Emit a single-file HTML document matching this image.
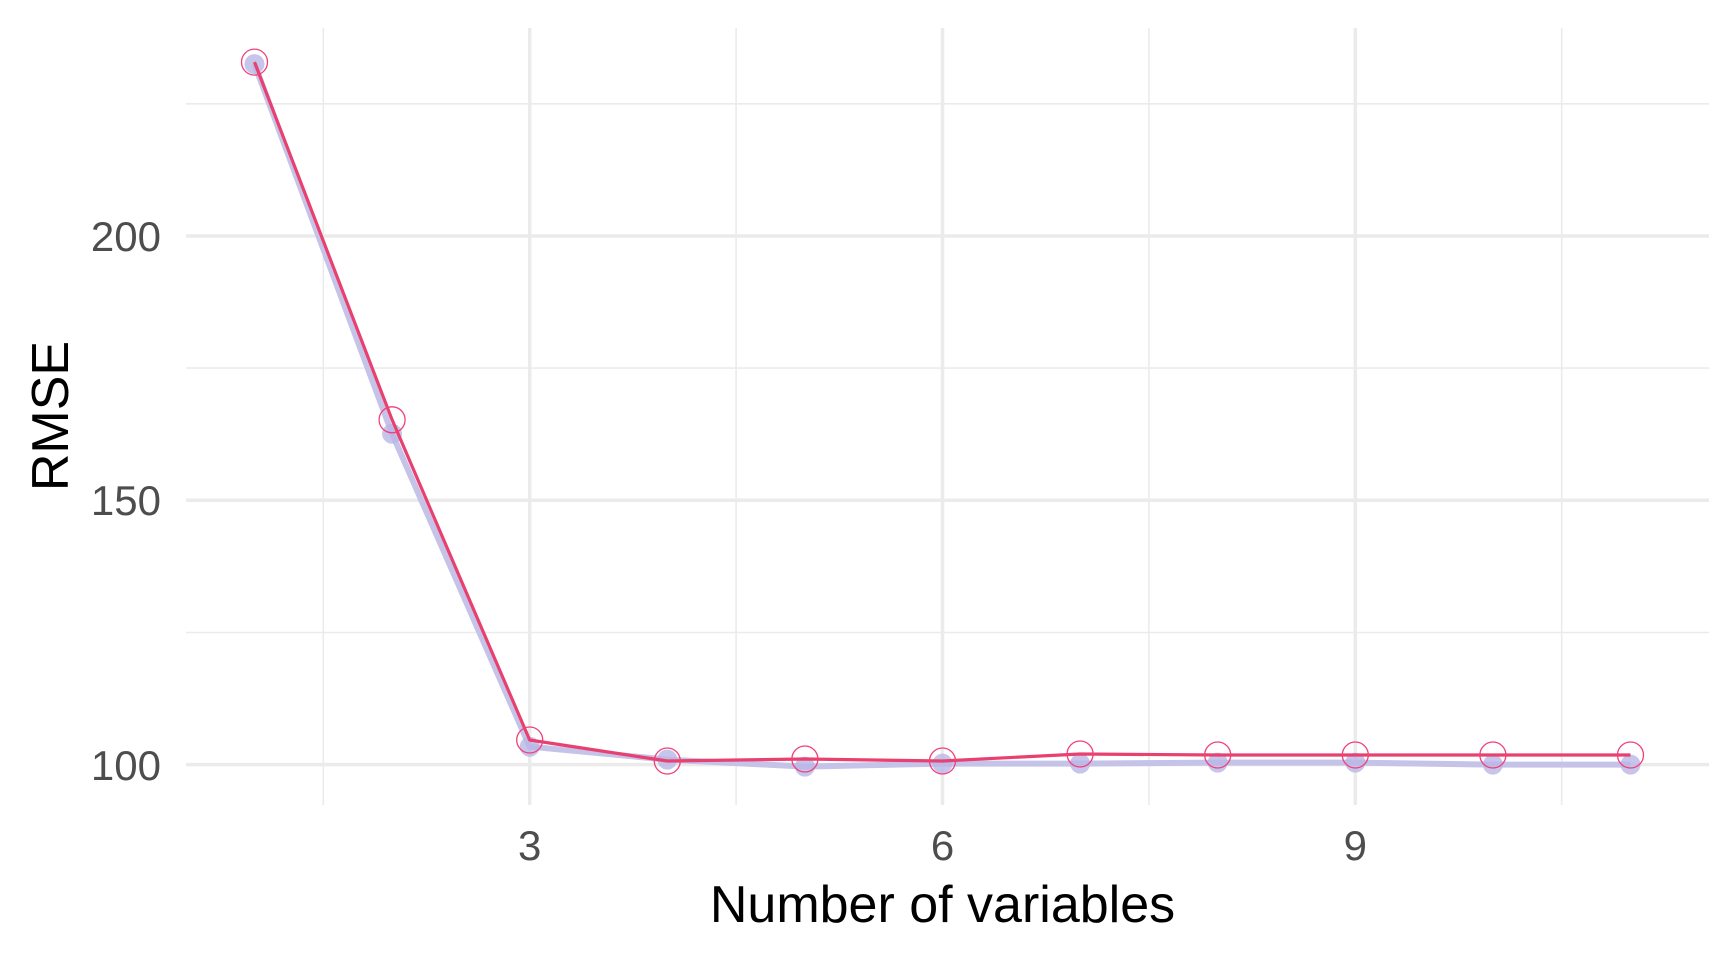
<!DOCTYPE html>
<html><head><style>html,body{margin:0;padding:0;background:#fff}</style></head><body>
<svg width="1728" height="960" xmlns="http://www.w3.org/2000/svg" font-family="Liberation Sans, Arial, sans-serif">
<rect width="1728" height="960" fill="#fff"/>
<g stroke="#ebebeb" stroke-width="1.6">
<line x1="186" x2="1709" y1="103.8" y2="103.8"/><line x1="186" x2="1709" y1="368.1" y2="368.1"/><line x1="186" x2="1709" y1="632.5" y2="632.5"/>
<line x1="323.3" x2="323.3" y1="28" y2="805"/><line x1="736.1" x2="736.1" y1="28" y2="805"/><line x1="1148.9" x2="1148.9" y1="28" y2="805"/><line x1="1561.7" x2="1561.7" y1="28" y2="805"/>
</g>
<g stroke="#ebebeb" stroke-width="3.5">
<line x1="186" x2="1709" y1="236" y2="236"/><line x1="186" x2="1709" y1="500.3" y2="500.3"/><line x1="186" x2="1709" y1="764.6" y2="764.6"/>
<line x1="529.7" x2="529.7" y1="28" y2="805"/><line x1="942.5" x2="942.5" y1="28" y2="805"/><line x1="1355.3" x2="1355.3" y1="28" y2="805"/>
</g>
<g fill="#4d4d4d" font-size="42" text-anchor="end">
<text x="161" y="251">200</text><text x="161" y="515">150</text><text x="161" y="780">100</text>
</g>
<g fill="#4d4d4d" font-size="42" text-anchor="middle">
<text x="529.7" y="860">3</text><text x="942.5" y="860">6</text><text x="1355.3" y="860">9</text>
</g>
<text x="942.5" y="922" font-size="52" text-anchor="middle" fill="#000">Number of variables</text>
<text transform="translate(68,416) rotate(-90)" font-size="52" text-anchor="middle" fill="#000">RMSE</text>
<polyline fill="none" stroke="#c5c3e8" stroke-width="6" stroke-linejoin="round" points="254.5,64.1 392.1,433.7 529.7,746.7 667.3,759.6 804.9,766.6 942.5,763.6 1080.1,763.6 1217.7,762.6 1355.3,762.6 1492.9,764.6 1630.5,764.6"/>
<g fill="#b9b6e6" fill-opacity="0.8">
<circle cx="254.5" cy="64.1" r="10"/><circle cx="392.1" cy="433.7" r="10"/><circle cx="529.7" cy="746.7" r="10"/><circle cx="667.3" cy="759.6" r="10"/><circle cx="804.9" cy="766.6" r="10"/><circle cx="942.5" cy="763.6" r="10"/><circle cx="1080.1" cy="763.6" r="10"/><circle cx="1217.7" cy="762.6" r="10"/><circle cx="1355.3" cy="762.6" r="10"/><circle cx="1492.9" cy="764.6" r="10"/><circle cx="1630.5" cy="764.6" r="10"/>
</g>
<polyline fill="none" stroke="#e8406f" stroke-width="3.2" stroke-linejoin="round" points="254.5,62.1 392.1,419.8 529.7,740 667.3,761 804.9,759 942.5,761 1080.1,754 1217.7,755 1355.3,755 1492.9,755 1630.5,755"/>
<g fill="none" stroke="#f0407a" stroke-width="1.3">
<circle cx="254.5" cy="62.1" r="13"/><circle cx="392.1" cy="419.8" r="13"/><circle cx="529.7" cy="740" r="13"/><circle cx="667.3" cy="761" r="13"/><circle cx="804.9" cy="759" r="13"/><circle cx="942.5" cy="761" r="13"/><circle cx="1080.1" cy="754" r="13"/><circle cx="1217.7" cy="755" r="13"/><circle cx="1355.3" cy="755" r="13"/><circle cx="1492.9" cy="755" r="13"/><circle cx="1630.5" cy="755" r="13"/>
</g>
</svg>
</body></html>
